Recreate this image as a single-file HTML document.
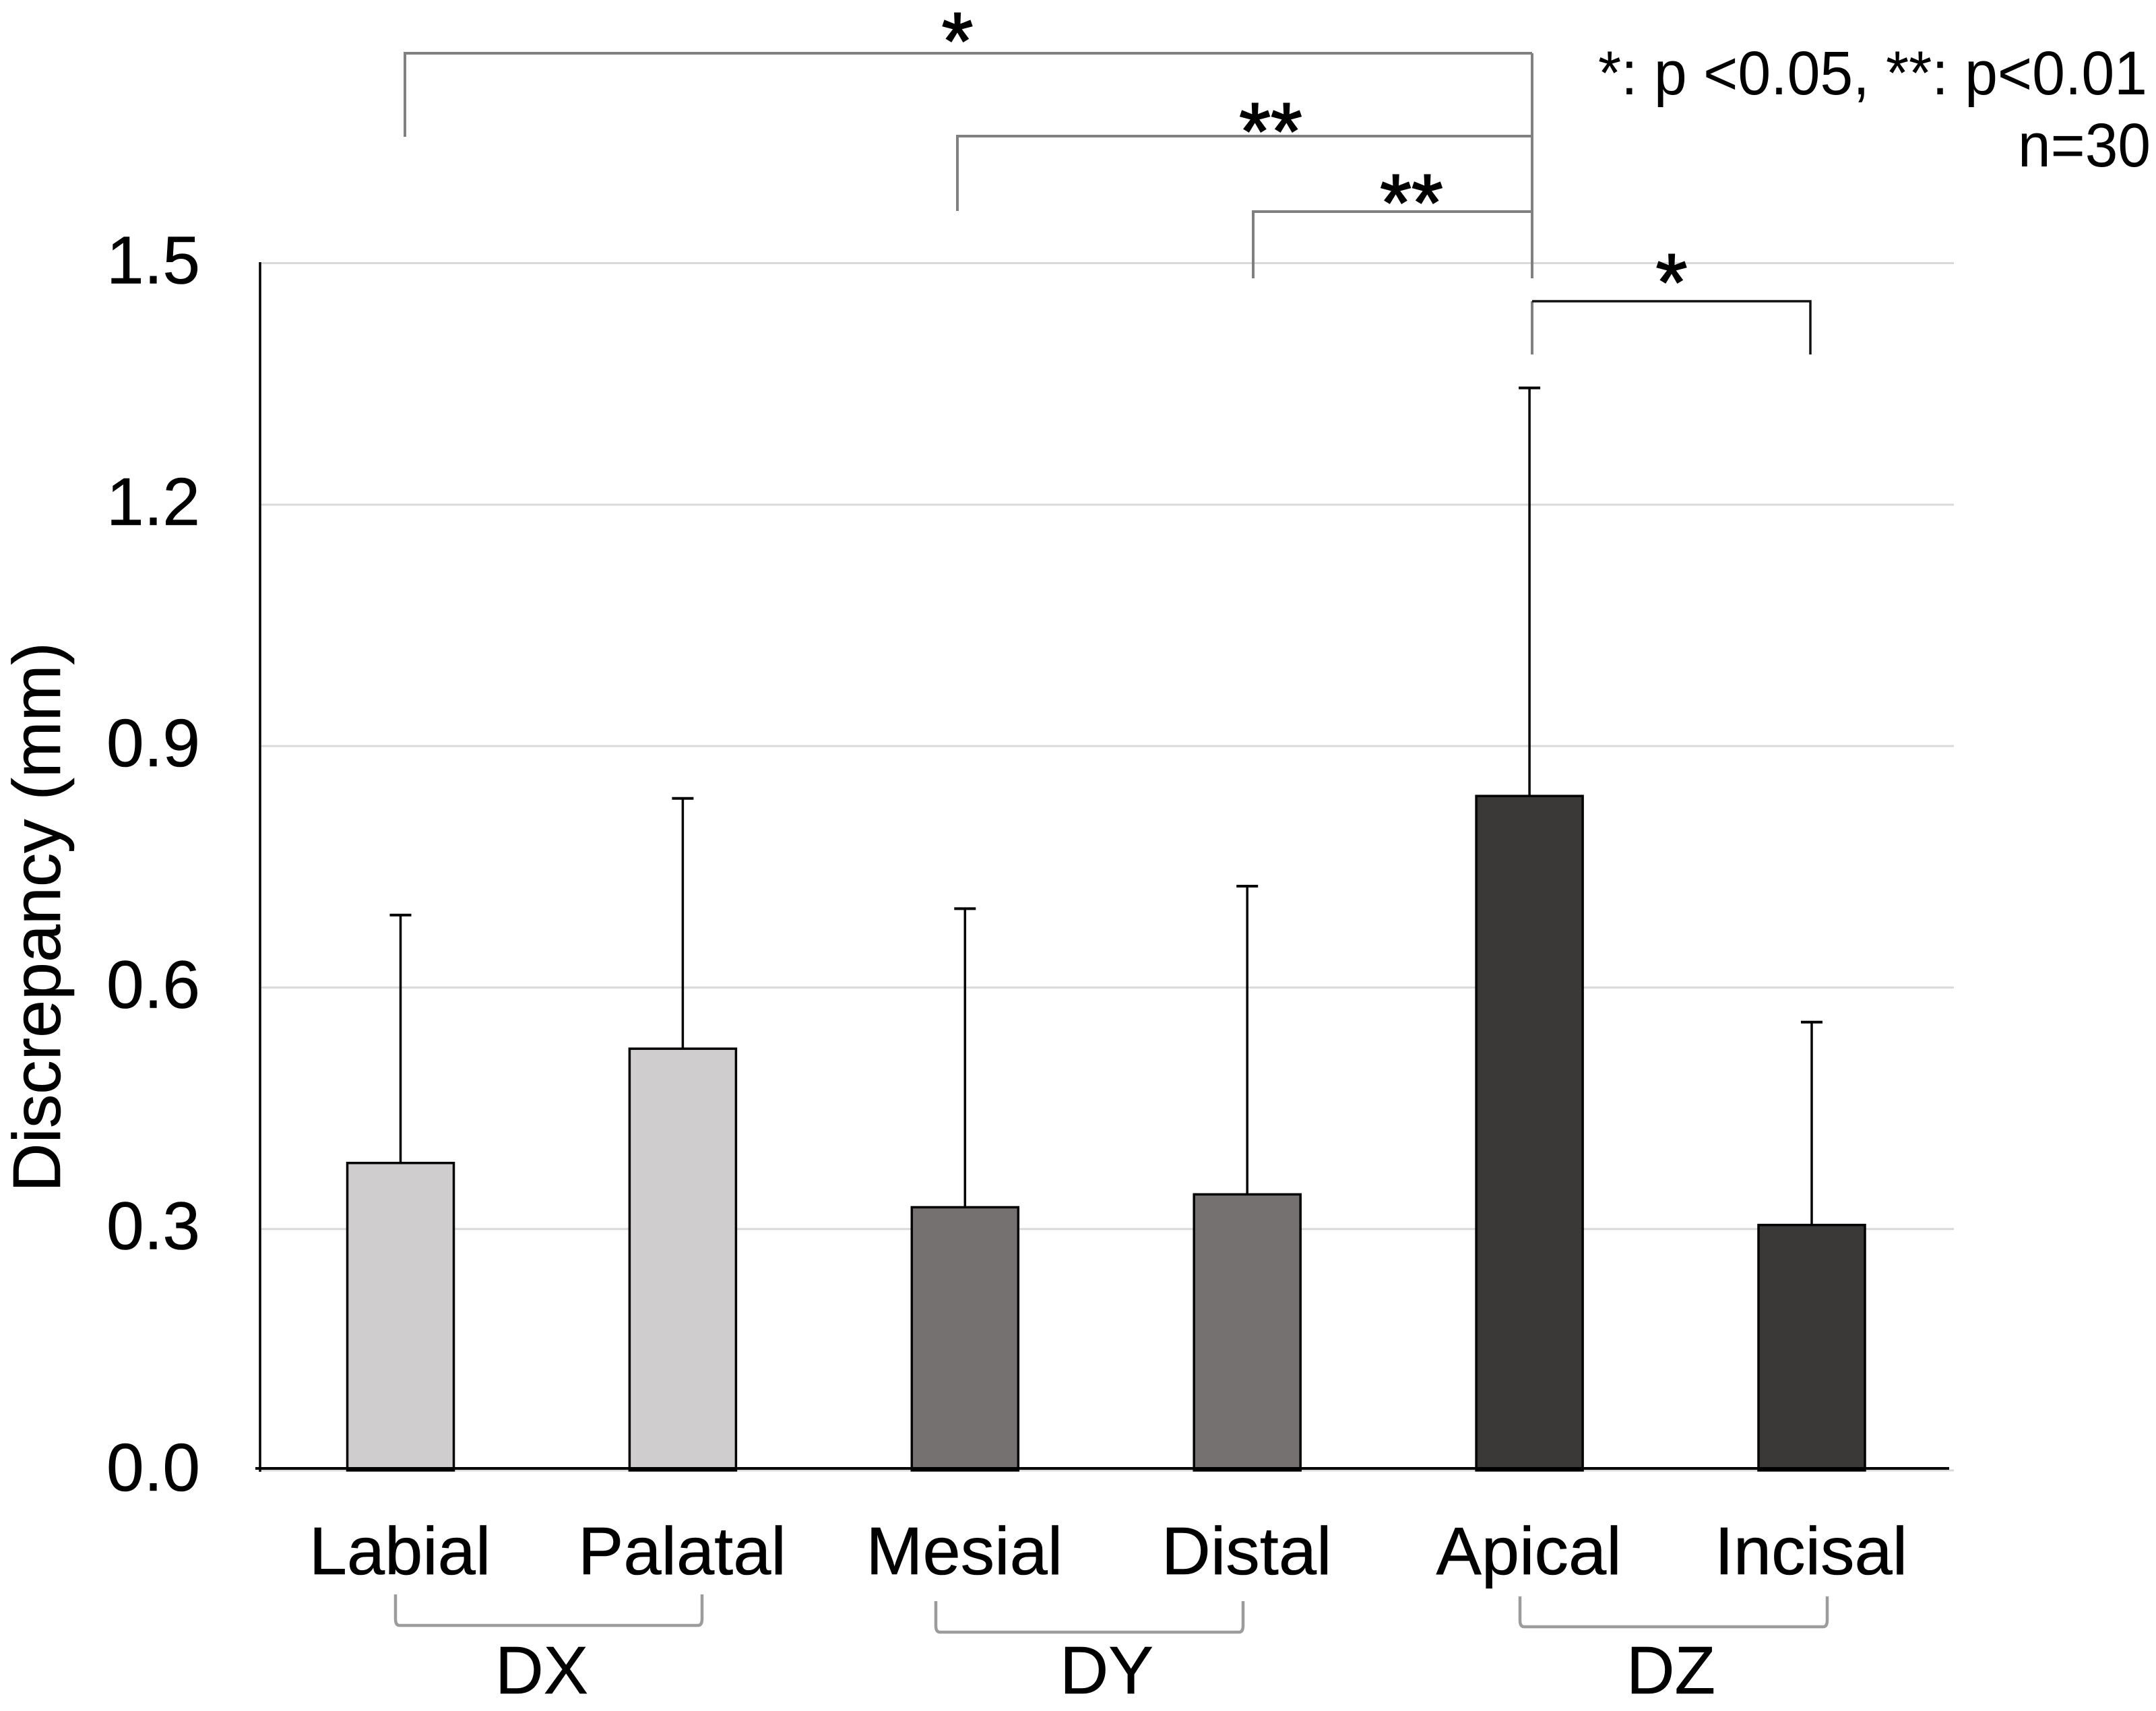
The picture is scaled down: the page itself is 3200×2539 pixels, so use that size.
<!DOCTYPE html>
<html lang="en">
<head>
<meta charset="utf-8">
<title>Discrepancy by surface</title>
<style>
  html, body { margin: 0; padding: 0; background: #ffffff; }
  svg { display: block; font-family: "Liberation Sans", Arial, sans-serif; fill: #000; }
  .dx { fill: #cfcdcd; }
  .dy { fill: #767171; }
  .dz { fill: #3b3838; }
  .bar { stroke: #000; stroke-width: 3.5; }
  .grid { stroke: #d9d9d9; stroke-width: 3; }
  .err { stroke: #000; stroke-width: 3.5; }
  .cap { stroke: #000; stroke-width: 4; }
  .lbl { font-size: 100px; stroke: #000; stroke-width: 0.6; }
  .star { font-size: 120px; text-anchor: middle; stroke: #000; stroke-width: 2; }
  .brk { fill: none; stroke: #808080; stroke-width: 4; }
  .brace { fill: none; stroke: #9c9c9c; stroke-width: 4.5; }
</style>
</head>
<body>
<svg id="chart" xmlns="http://www.w3.org/2000/svg" width="3200" height="2539" viewBox="0 0 3200 2539">
  <rect x="0" y="0" width="3200" height="2539" fill="#ffffff"/>
  <g id="grid-layer"></g>
  <g id="mark-layer"></g>
  <g>
    <line x1="386" y1="389" x2="386" y2="2184" stroke="#000" stroke-width="3.5"/>
    <line x1="379" y1="2179" x2="2893" y2="2179" stroke="#000" stroke-width="4"/>
  </g>
  <g id="tick-layer"></g>
  <g id="cat-layer"></g>
  <text class="lbl" transform="translate(89,1769) rotate(-90)" textLength="816" lengthAdjust="spacingAndGlyphs">Discrepancy (mm)</text>

  <g>
    <path class="brace" d="M587 2366 L587 2402 Q587 2412 593 2412 L1036 2412 Q1042 2412 1042 2402 L1042 2366"/>
    <path class="brace" d="M1389 2376 L1389 2412 Q1389 2422 1395 2422 L1839 2422 Q1845 2422 1845 2412 L1845 2376"/>
    <path class="brace" d="M2256 2369 L2256 2404 Q2256 2414 2262 2414 L2706 2414 Q2712 2414 2712 2404 L2712 2369"/>
  </g>
  <text class="lbl" x="735" y="2513" textLength="138" lengthAdjust="spacingAndGlyphs">DX</text>
  <text class="lbl" x="1573" y="2513" textLength="139" lengthAdjust="spacingAndGlyphs">DY</text>
  <text class="lbl" x="2414" y="2513" textLength="132" lengthAdjust="spacingAndGlyphs">DZ</text>

  <g>
    <path class="brk" d="M601 203 L601 79 L2274 79"/>
    <path class="brk" d="M1421 313 L1421 202 L2274 202"/>
    <path class="brk" d="M1860 413 L1860 314 L2274 314"/>
    <line class="brk" x1="2274" y1="79" x2="2274" y2="413"/>
    <path class="brk" d="M2274 526 L2274 447"/>
    <path fill="none" stroke="#111" stroke-width="3.5" d="M2274 447 L2687 447 L2687 526"/>
  </g>
  <text class="star" x="1421" y="102">*</text>
  <text class="star" x="1886" y="236">**</text>
  <text class="star" x="2095" y="342">**</text>
  <text class="star" x="2481" y="460">*</text>

  <text class="note" x="2372" y="140" font-size="92" textLength="815" lengthAdjust="spacingAndGlyphs">*: p &lt;0.05, **: p&lt;0.01</text>
  <text class="note" x="2995" y="247" font-size="92" textLength="197" lengthAdjust="spacingAndGlyphs">n=30</text>
</svg>

<script>
const categories = ['Labial', 'Palatal', 'Mesial', 'Distal', 'Apical', 'Incisal'];
const groups = ['dx', 'dx', 'dy', 'dy', 'dz', 'dz'];
const means = [0.382, 0.524, 0.327, 0.343, 0.838, 0.305];
const errors = [0.308, 0.311, 0.371, 0.383, 0.507, 0.252];
const tickLabels = ['0.0', '0.3', '0.6', '0.9', '1.2', '1.5'];

const NS = 'http://www.w3.org/2000/svg';
const BAR_WIDTH = 158;
const CAP_HALF = 16;

function xScale(i) { return 594.5 + 418.9 * i; }
function yScale(v) { return 2182 - 1194.3 * v; }

function make(tag, attrs) {
  const el = document.createElementNS(NS, tag);
  for (const k in attrs) el.setAttribute(k, attrs[k]);
  return el;
}

const gridLayer = document.getElementById('grid-layer');
const markLayer = document.getElementById('mark-layer');
const tickLayer = document.getElementById('tick-layer');
const catLayer = document.getElementById('cat-layer');

tickLabels.forEach(function (label) {
  const v = parseFloat(label);
  const y = yScale(v);

  const grid = make('line', { class: 'grid', x1: 388, x2: 2900, y1: y, y2: y });
  
  
  gridLayer.appendChild(grid);

  const tick = make('text', { class: 'lbl', 'text-anchor': 'end', transform: 'translate(297,' + (y + 30) + ')' });
  
  
  tick.textContent = label;
  tickLayer.appendChild(tick);
});

categories.forEach(function (name, i) {
  const cx = xScale(i);
  const top = yScale(means[i]);
  const errTop = yScale(means[i] + errors[i]);
  const slug = name.toLowerCase();

  const stem = make('line', { class: 'err', x1: cx, x2: cx, y1: top, y2: errTop });
  
  
  markLayer.appendChild(stem);

  const cap = make('line', { class: 'cap', x1: cx - CAP_HALF, x2: cx + CAP_HALF, y1: errTop, y2: errTop });
  
  
  markLayer.appendChild(cap);

  const bar = make('rect', { class: 'bar ' + groups[i], x: cx - BAR_WIDTH / 2, y: top, width: BAR_WIDTH, height: yScale(0) - top });
  
  
  markLayer.appendChild(bar);

  const label = make('text', { class: 'lbl', 'text-anchor': 'middle', transform: 'translate(' + (cx - 1) + ',2336) scale(1.01,1)' });
  
  
  label.textContent = name;
  catLayer.appendChild(label);
});
</script>
</body>
</html>
